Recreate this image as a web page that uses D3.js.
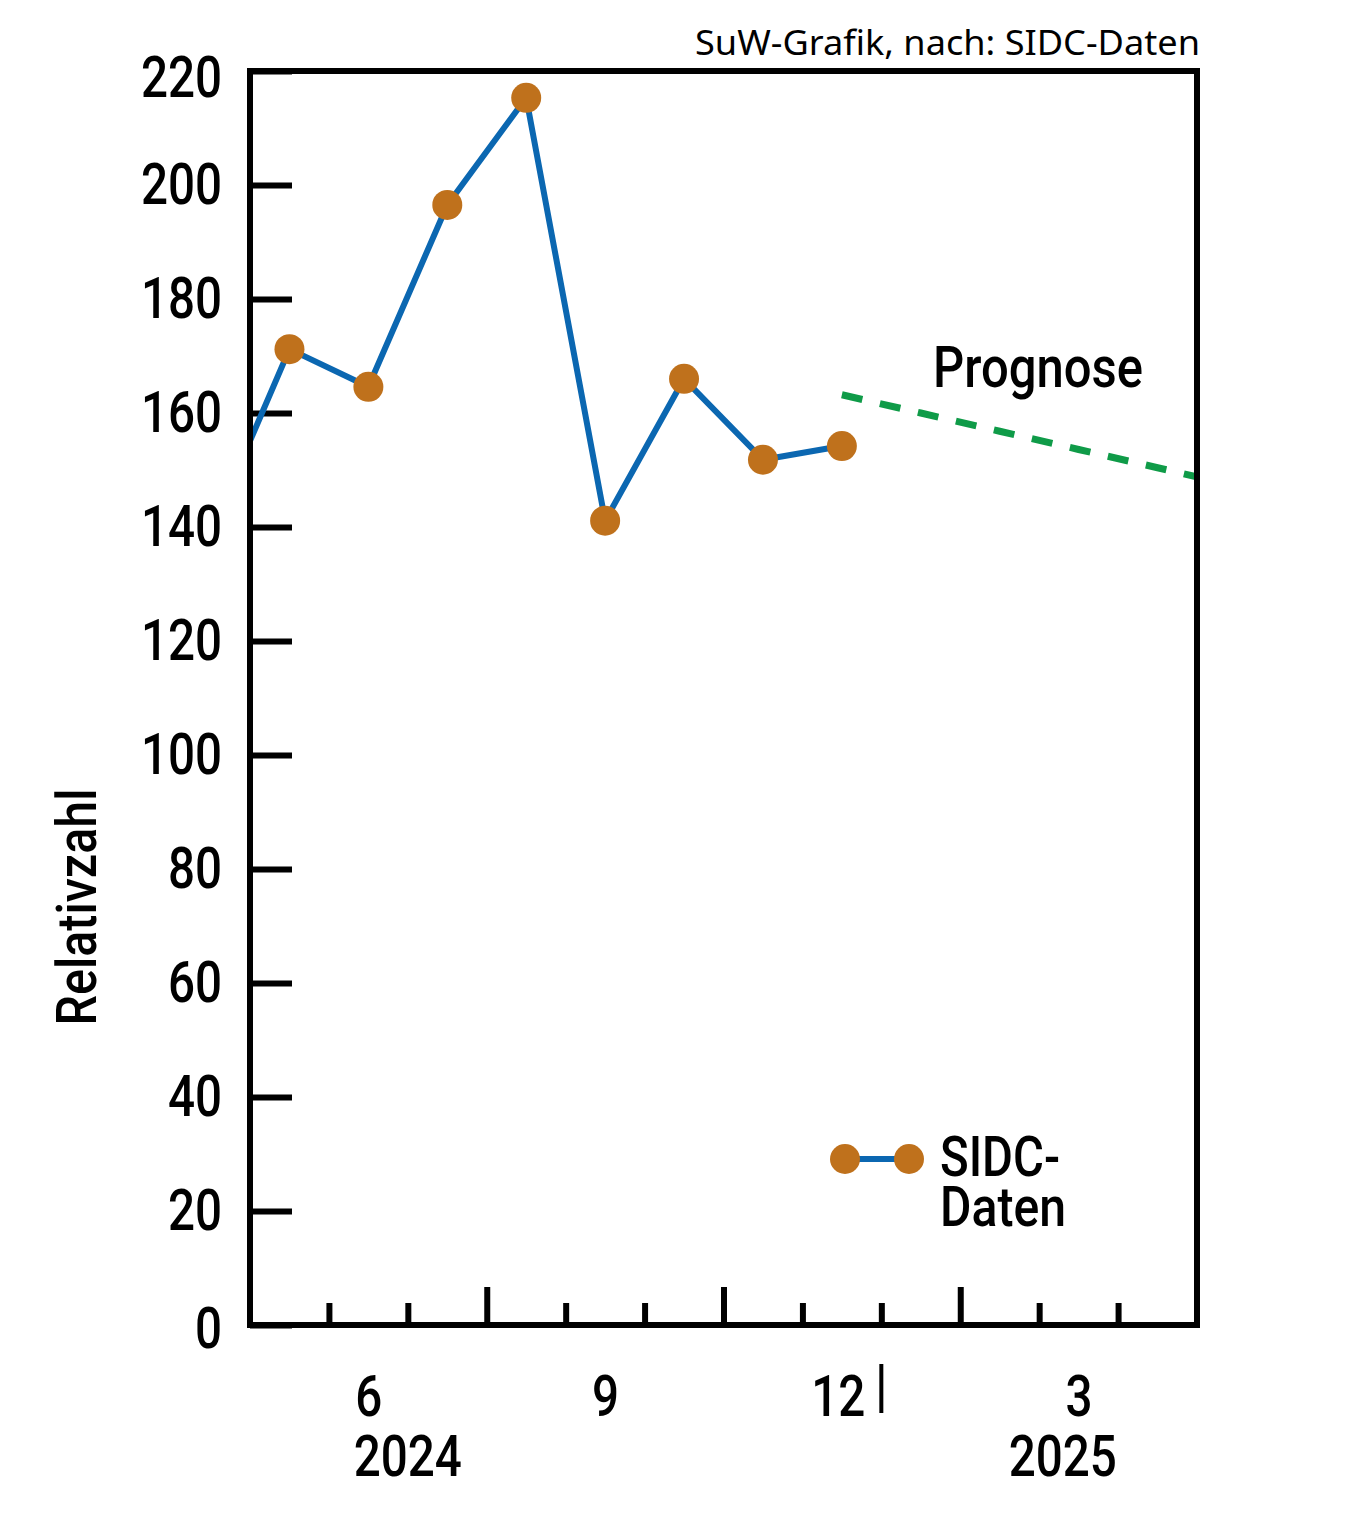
<!DOCTYPE html>
<html><head><meta charset="utf-8">
<script src="https://cdn.jsdelivr.net/npm/d3@7"></script>
<style>body{margin:0;background:#fff}svg{display:block}</style>
</head><body>
<script>
// ---- data ----
const sidcMonths = ["2024-04","2024-05","2024-06","2024-07","2024-08","2024-09","2024-10","2024-11","2024-12"];
const sidcValues = [139, 171.2, 164.6, 196.5, 215.3, 141.1, 166.0, 151.8, 154.2];
const forecastMonths = ["2024-12","2025-01","2025-02","2025-03","2025-04","2025-05"];
const forecastValues = [163.2, 160.0, 156.8, 153.6, 150.4, 147.2];
const yTicks = [0,20,40,60,80,100,120,140,160,180,200,220];
const xLabelMonths = ["2024-06","2024-09","2024-12","2025-03"];
const xLabels = ["6","9","12","3"];
const monthStarts = ["2024-06","2024-07","2024-08","2024-09","2024-10","2024-11","2024-12","2025-01","2025-02","2025-03","2025-04"];
const majorMonthStarts = ["2024-08","2024-11","2025-02"];
const yearLabels = ["2024","2025"];

const W = 1366, H = 1538;
const L = 250, R = 1197, T = 71, B = 1325;
const blue = "#0b67b1", brown = "#bf711c", green = "#0f9b48";
const font = "Roboto, 'Liberation Sans', sans-serif";
const fw = 500;

function mIdx(s){ const [y,m] = s.split("-").map(Number); return (y-2024)*12 + (m-5); }

const svg = d3.select("body").append("svg").attr("width", W).attr("height", H);
const x = d3.scaleLinear().domain([0,12]).range([L,R]);
const y = d3.scaleLinear().domain([0,220]).range([B,T]);

function condense(sel, f){
  sel.each(function(){ const w = this.getComputedTextLength(); d3.select(this).attr("textLength", w*f).attr("lengthAdjust","spacingAndGlyphs"); });
}

svg.append("defs").append("clipPath").attr("id","plot")
  .append("rect").attr("x",L).attr("y",T).attr("width",R-L).attr("height",B-T);

// y axis
const yAx = svg.append("g").attr("transform",`translate(${L},0)`)
  .call(d3.axisLeft(y).tickValues(yTicks).tickSize(-42).tickPadding(28));
yAx.select(".domain").remove();
yAx.selectAll("line").attr("stroke","#000").attr("stroke-width",6);
yAx.selectAll("text").attr("font-family",font).attr("font-weight",fw).attr("font-size",58).attr("fill","#000").call(condense,0.82);
yAx.selectAll(".tick").filter(d=>d===220).select("text").attr("y",7);
yAx.selectAll(".tick").filter(d=>d===0).select("text").attr("y",4);

// x axis month ticks
const xAx = svg.append("g").attr("transform",`translate(0,${B})`)
  .call(d3.axisBottom(x).tickValues(monthStarts.map(mIdx)).tickSize(-21).tickFormat(""));
xAx.select(".domain").remove();
xAx.selectAll("line").attr("stroke","#000").attr("stroke-width",6)
  .attr("y2", d => majorMonthStarts.map(mIdx).includes(d) ? -38 : -22);

// x labels
const xl = svg.append("g").attr("transform",`translate(0,${B})`)
  .call(d3.axisBottom(x).tickValues(xLabelMonths.map(s=>mIdx(s)+0.5)).tickSize(0).tickPadding(50)
    .tickFormat((d,i)=>xLabels[i]));
xl.select(".domain").remove();
xl.selectAll("text").attr("font-family",font).attr("font-weight",fw).attr("font-size",58).attr("fill","#000").call(condense,0.82);
xl.selectAll(".tick").filter((d,i)=>xLabels[i]==="12").select("text").attr("dx",-4);

// year separator
svg.append("line").attr("x1",x(mIdx("2025-01"))).attr("x2",x(mIdx("2025-01")))
  .attr("y1",1364).attr("y2",1413).attr("stroke","#000").attr("stroke-width",4);

// year labels
svg.selectAll(".yr").data(yearLabels).enter().append("text")
  .attr("x",(d,i)=> i===0 ? x(mIdx("2024-07")) : x(mIdx("2025-03")+0.3))
  .attr("y",1476).attr("text-anchor","middle")
  .attr("font-family",font).attr("font-weight",fw).attr("font-size",58).attr("fill","#000").text(d=>d).call(condense,0.82);

// forecast
const gClip = svg.append("g").attr("clip-path","url(#plot)");
gClip.append("path").datum(forecastValues)
  .attr("d", d3.line().x((d,i)=>x(mIdx(forecastMonths[i])+0.5)).y(d=>y(d)))
  .attr("fill","none").attr("stroke",green).attr("stroke-width",7).attr("stroke-dasharray","21 18");

// data line
gClip.append("path").datum(sidcValues)
  .attr("d", d3.line().x((d,i)=>x(mIdx(sidcMonths[i])+0.5)).y(d=>y(d)))
  .attr("fill","none").attr("stroke",blue).attr("stroke-width",6).attr("stroke-linejoin","round");

// frame
svg.append("rect").attr("x",L).attr("y",T).attr("width",R-L).attr("height",B-T)
  .attr("fill","none").attr("stroke","#000").attr("stroke-width",6);

// points
gClip.selectAll(".pt").data(sidcValues).enter().append("circle")
  .attr("cx",(d,i)=>x(mIdx(sidcMonths[i])+0.5)).attr("cy",d=>y(d)).attr("r",15).attr("fill",brown);

// Prognose label
svg.append("text").attr("x",933).attr("y",387).attr("font-family",font).attr("font-weight",fw).attr("font-size",57)
  .attr("fill","#000").attr("textLength",210).attr("lengthAdjust","spacingAndGlyphs").text("Prognose");

// legend
svg.append("line").attr("x1",845).attr("x2",909).attr("y1",1159).attr("y2",1159).attr("stroke",blue).attr("stroke-width",6);
svg.append("circle").attr("cx",845).attr("cy",1159).attr("r",15).attr("fill",brown);
svg.append("circle").attr("cx",909).attr("cy",1159).attr("r",15).attr("fill",brown);
svg.append("text").attr("x",940).attr("y",1176).attr("font-family",font).attr("font-weight",fw).attr("font-size",55)
  .attr("fill","#000").attr("textLength",120).attr("lengthAdjust","spacingAndGlyphs").text("SIDC-");
svg.append("text").attr("x",940).attr("y",1226).attr("font-family",font).attr("font-weight",fw).attr("font-size",55)
  .attr("fill","#000").attr("textLength",126).attr("lengthAdjust","spacingAndGlyphs").text("Daten");

// y title
svg.append("text").attr("transform","translate(96,907) rotate(-90)").attr("text-anchor","middle")
  .attr("font-family",font).attr("font-size",56).attr("font-weight",fw).attr("fill","#000")
  .attr("textLength",237).attr("lengthAdjust","spacingAndGlyphs").text("Relativzahl");

// source
svg.append("text").attr("x",1200).attr("y",55).attr("text-anchor","end")
  .attr("font-family","'Noto Sans','Open Sans',sans-serif").attr("font-size",35).attr("fill","#000")
  .attr("textLength",505).attr("lengthAdjust","spacingAndGlyphs")
  .text("SuW-Grafik, nach: SIDC-Daten");
</script>
</body></html>
